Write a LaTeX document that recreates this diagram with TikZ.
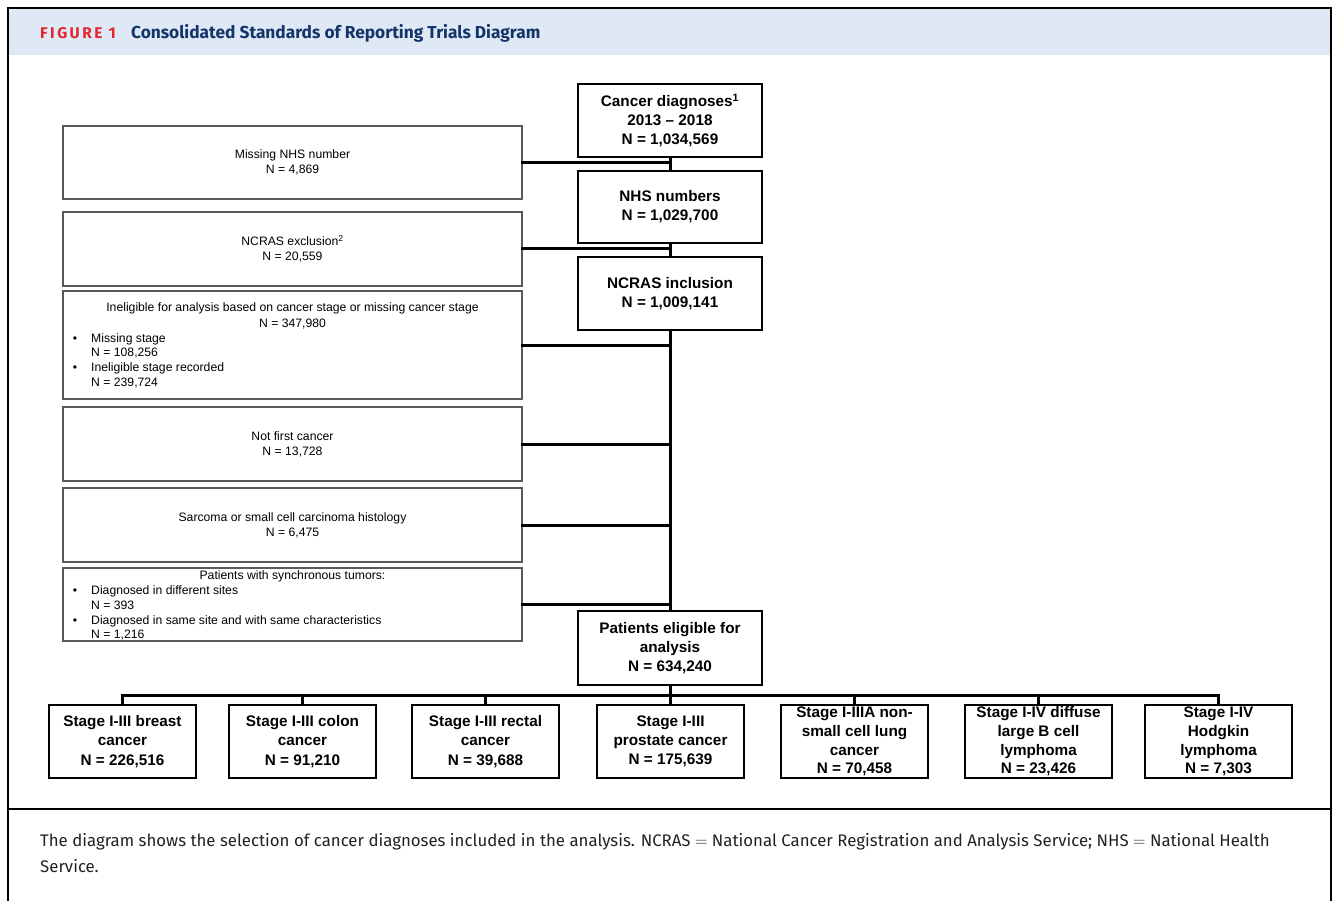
\documentclass[tikz,border=0pt]{standalone}
\usepackage{fontspec}
\setmainfont{Liberation Sans}
\newfontfamily\capfont{Fira Sans}
\definecolor{headbg}{HTML}{DEE9F5}
\definecolor{figred}{HTML}{E3262E}
\definecolor{navy}{HTML}{14346A}
\definecolor{capgray}{HTML}{222222}
\begin{document}
\begin{tikzpicture}[x=1pt,y=-1pt,
  mainbox/.style={draw=black, line width=1.3pt, align=center, inner sep=0pt,
    font=\bfseries\fontsize{15.3}{19}\selectfont, minimum width=184pt, minimum height=73pt},
  sidebox/.style={draw=black!65, line width=1.3pt, inner sep=0pt, align=center,
    font=\fontsize{12.2}{15}\selectfont, minimum width=459pt},
  stagebox/.style={draw=black, line width=1.3pt, align=center, inner sep=0pt,
    font=\bfseries\fontsize{15.3}{19.3}\selectfont, minimum width=147pt, minimum height=73pt},
  small/.style={font=\fontsize{12.2}{15}\selectfont, inner sep=0pt},
  conn/.style={line width=3pt, line cap=rect, line join=miter}]
\useasboundingbox (0,0) rectangle (1336,901);
% frame and header
\fill[headbg] (8,8) rectangle (1331,55);
\draw[line width=1.5pt] (8,901) -- (8,8) -- (1331,8) -- (1331,901);
\draw[line width=1.5pt] (8,809) -- (1331,809);
\node[anchor=base west, inner sep=0pt, text=figred, font=\capfont\bfseries\fontsize{15.5}{18}\selectfont\addfontfeatures{LetterSpace=16}] (figlab) at (40,39) {FIGURE 1};
\node[anchor=base west, inner sep=0pt, text=navy, font=\capfont\bfseries\fontsize{17.3}{20}\selectfont] (figtitle) at (131,39) {Consolidated Standards of Reporting Trials Diagram};
% main column
\node[mainbox] (cd) at (670,120.5) {Cancer diagnoses\textsuperscript{1}\\2013 -- 2018\\N = 1,034,569};
\node[mainbox, minimum height=72pt] (nhs) at (670,207) {NHS numbers\\N = 1,029,700};
\node[mainbox] (ncr) at (670,293.5) {NCRAS inclusion\\N = 1,009,141};
\node[mainbox, minimum height=74pt] (elig) at (670,648) {Patients eligible for\\analysis\\N = 634,240};
% side boxes
\node[sidebox, minimum height=73pt] (miss) at (292.5,162.5) {Missing NHS number\\N = 4,869};
\node[sidebox, minimum height=74pt] (excl) at (292.5,249) {NCRAS exclusion\textsuperscript{2}\\N = 20,559};
\node[sidebox, minimum height=108pt] (inel) at (292.5,345) {};
\node[sidebox, minimum height=74pt] (nfc) at (292.5,444) {Not first cancer\\N = 13,728};
\node[sidebox, minimum height=74pt] (sarc) at (292.5,525) {Sarcoma or small cell carcinoma histology\\N = 6,475};
\node[sidebox, minimum height=73pt] (sync) at (292.5,604.5) {};
% texts inside the ineligible box
\node[small, anchor=base] (inelA) at (292.5,312) {Ineligible for analysis based on cancer stage or missing cancer stage};
\node[small, anchor=base] (inelB) at (292.5,327) {N = 347,980};
\node[small, anchor=base] (inelC1) at (75,342) {•};
\node[small, anchor=base west] (inelC) at (91,342) {Missing stage};
\node[small, anchor=base west] (inelD) at (91,356) {N = 108,256};
\node[small, anchor=base] (inelE1) at (75,371) {•};
\node[small, anchor=base west] (inelE) at (91,371) {Ineligible stage recorded};
\node[small, anchor=base west] (inelF) at (91,386) {N = 239,724};
% texts inside the synchronous box
\node[small, anchor=base] (syncA) at (292.5,579) {Patients with synchronous tumors:};
\node[small, anchor=base] (syncB1) at (75,594) {•};
\node[small, anchor=base west] (syncB) at (91,594) {Diagnosed in different sites};
\node[small, anchor=base west] (syncC) at (91,609) {N = 393};
\node[small, anchor=base] (syncD1) at (75,624) {•};
\node[small, anchor=base west] (syncD) at (91,624) {Diagnosed in same site and with same characteristics};
\node[small, anchor=base west] (syncE) at (91,638) {N = 1,216};
% stage boxes
\node[stagebox] (b1) at (122.5,741.5) {Stage I-III breast\\cancer\\N = 226,516};
\node[stagebox] (b2) at (302.5,741.5) {Stage I-III colon\\cancer\\N = 91,210};
\node[stagebox] (b3) at (485.5,741.5) {Stage I-III rectal\\cancer\\N = 39,688};
\node[stagebox] (b4) at (670.5,741.5) {Stage I-III\\prostate cancer\\N = 175,639};
\node[stagebox, font=\bfseries\fontsize{15.3}{18.7}\selectfont] (b5) at (854.5,741.5) {Stage I-IIIA non-\\small cell lung\\cancer\\N = 70,458};
\node[stagebox, font=\bfseries\fontsize{15.3}{18.7}\selectfont] (b6) at (1038.5,741.5) {Stage I-IV diffuse\\large B cell\\lymphoma\\N = 23,426};
\node[stagebox, font=\bfseries\fontsize{15.3}{18.7}\selectfont] (b7) at (1218.5,741.5) {Stage I-IV\\Hodgkin\\lymphoma\\N = 7,303};
% connectors
\draw[conn] (cd.south) -- (nhs.north);
\draw[conn] (nhs.south) -- (ncr.north);
\draw[conn] (ncr.south) -- (elig.north);
\draw[conn] (miss.east) -- (miss.east -| cd.south);
\draw[conn] (excl.east) -- (excl.east -| cd.south);
\draw[conn] (inel.east) -- (inel.east -| cd.south);
\draw[conn] (nfc.east) -- (nfc.east -| cd.south);
\draw[conn] (sarc.east) -- (sarc.east -| cd.south);
\draw[conn] (sync.east) -- (sync.east -| cd.south);
\coordinate (bus) at (670,695);
\draw[conn] (elig.south) -- (bus);
\draw[conn] (b1.north) -- (b1.north |- bus) -- (b7.north |- bus) -- (b7.north);
\draw[conn] (b2.north) -- (b2.north |- bus);
\draw[conn] (b3.north) -- (b3.north |- bus);
\draw[conn] (b4.north) -- (b4.north |- bus);
\draw[conn] (b5.north) -- (b5.north |- bus);
\draw[conn] (b6.north) -- (b6.north |- bus);
% caption
\node[anchor=base west, inner sep=0pt, text=capgray, font=\capfont\fontsize{16.8}{26}\selectfont] (caption) at (40,846) {The diagram shows the selection of cancer diagnoses included in the analysis. NCRAS $=$ National Cancer Registration and Analysis Service; NHS $=$ National Health};
\node[anchor=base west, inner sep=0pt, text=capgray, font=\capfont\fontsize{16.8}{26}\selectfont] (caption2) at (40,872) {Service.};
\end{tikzpicture}
\end{document}
